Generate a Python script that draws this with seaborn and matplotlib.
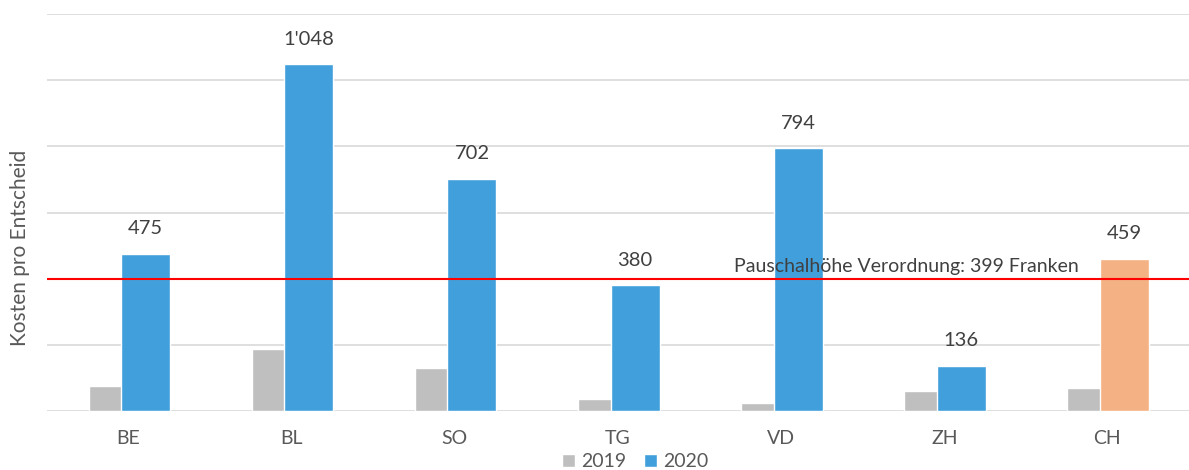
import pandas as pd
import matplotlib.pyplot as plt
import seaborn as sns

kantone = ['BE', 'BL', 'SO', 'TG', 'VD', 'ZH', 'CH']
kosten_2019 = [76, 186, 129, 36, 24, 60, 70]
kosten_2020 = [475, 1048, 702, 380, 794, 136, 459]
jahre = ['2019', '2020']
pauschale = 399
pauschale_text = 'Pauschalhöhe Verordnung: 399 Franken'

grau = '#BFBFBF'
blau = '#41A0DC'
orange = '#F4B183'
textfarbe = '#595959'

df = pd.DataFrame({
    'Kanton': kantone * 2,
    'Jahr': [jahre[0]] * len(kantone) + [jahre[1]] * len(kantone),
    'Kosten': kosten_2019 + kosten_2020,
})

sns.set_theme(style='white')
plt.rcParams['font.family'] = ['Lato', 'DejaVu Sans']

fig = plt.figure(figsize=(11.89, 4.70), dpi=100)
ax = fig.add_axes([0.0395, 0.1255, 0.9605, 0.8447])

sns.barplot(data=df, x='Kanton', y='Kosten', hue='Jahr', palette=[grau, blau],
            width=0.6, saturation=1, ax=ax, zorder=2)

# Balken ueberlappen lassen wie im Original (2020 liegt vorne)
for bar in ax.containers[0]:
    bar.set_x(bar.get_x() + 0.055)
for bar in ax.containers[1]:
    bar.set_x(bar.get_x() - 0.045)
# CH hervorheben
ax.containers[1][-1].set_facecolor(orange)

labels = [f'{v:,}'.replace(',', "'") for v in kosten_2020]
ax.bar_label(ax.containers[1], labels=labels, padding=12, fontsize=14.5, color='#404040')

# Pauschale
ax.axhline(pauschale, color='#FF0000', lw=1.5, zorder=4)
ax.text(3.71, pauschale + 21, pauschale_text, fontsize=14, color='#404040',
        ha='left', va='baseline', zorder=5)

ax.set_ylim(0, 1200)
ax.set_xlim(-0.5, 6.5)
ax.set_yticks(range(0, 1201, 200))
ax.set_yticklabels([])
ax.yaxis.grid(True, color='#D9D9D9', lw=1.2)
ax.set_axisbelow(True)
ax.tick_params(axis='x', length=0, pad=14, labelsize=14, labelcolor=textfarbe)
ax.tick_params(axis='y', length=0)
ax.set_xlabel('')
ax.set_ylabel('')
sns.despine(ax=ax, left=True, bottom=True)

fig.text(0.017, 0.472, 'Kosten pro Entscheid', rotation=90, fontsize=15,
         color=textfarbe, ha='center', va='center')

sns.move_legend(ax, 'center', bbox_to_anchor=(0.515, -0.128), ncol=2,
                frameon=False, title=None, fontsize=14, handlelength=0.7,
                handleheight=0.7, handletextpad=0.3, columnspacing=0.9,
                borderpad=0)
for t in ax.get_legend().get_texts():
    t.set_color(textfarbe)

fig.savefig('out.png', dpi=100)
